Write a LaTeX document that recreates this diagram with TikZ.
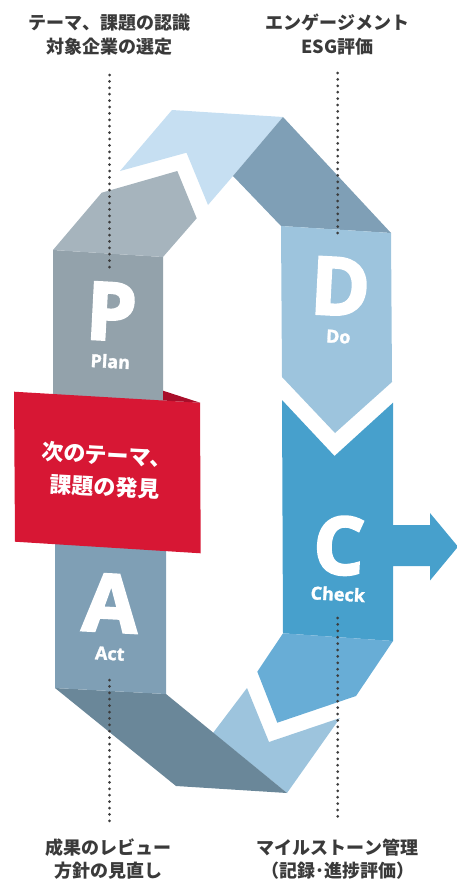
\documentclass[tikz,border=0pt]{standalone}
\usepackage{fontspec}
\newfontfamily\jpfont{Noto Sans CJK JP}
\newfontfamily\latfont{Open Sans}
\newfontfamily\heavyfont[FakeBold=3,BoldFeatures={FakeBold=3}]{Open Sans}
\newfontfamily\wordfont[BoldFeatures={FakeBold=1.5}]{Open Sans}
\definecolor{planGray}{HTML}{93A2AB}
\definecolor{planSlant}{HTML}{A6B4BD}
\definecolor{topArrow}{HTML}{C6DFF2}
\definecolor{topBand}{HTML}{7F9FB6}
\definecolor{doBlue}{HTML}{9DC4DD}
\definecolor{checkBlue}{HTML}{47A0CC}
\definecolor{checkSlant}{HTML}{68ADD6}
\definecolor{lowArrow}{HTML}{9DC4DD}
\definecolor{lowBand}{HTML}{6A8799}
\definecolor{actBlue}{HTML}{7F9FB5}
\definecolor{ribbonRed}{HTML}{D71734}
\definecolor{ribbonFold}{HTML}{A90E2A}
\definecolor{labelGray}{HTML}{3A3A3A}
\definecolor{dotGray}{HTML}{3C3C3C}
\begin{document}
\begin{tikzpicture}[x=1pt,y=-1pt,
  caption/.style={font=\jpfont\bfseries\fontsize{18}{24}\selectfont,text=labelGray,align=center},
  captionlow/.style={font=\jpfont\bfseries\fontsize{18}{23}\selectfont,text=labelGray,align=center},
  bigletter/.style={font=\heavyfont\bfseries\fontsize{80}{80}\selectfont,text=white,anchor=base,rotate=-3,inner sep=0pt},
  phaseword/.style={font=\wordfont\bfseries\fontsize{18}{18}\selectfont,text=white,anchor=base,rotate=-3,inner sep=0pt},
  ribbontext/.style={font=\jpfont\bfseries\fontsize{22}{32}\selectfont,text=white,align=center,rotate=-3},
  dotline/.style={draw=dotGray,line width=3pt,line cap=round,dash pattern=on 0pt off 6.4pt}]
\useasboundingbox (0,0) rectangle (457,883);

% ---- Plan column and its upper bend
\fill[planGray] (53,250) -- (163,257) -- (163,470) -- (53,470) -- cycle;
\fill[planSlant] (53,250) -- (101.7,192.7) -- (177.3,171) -- (196.7,218.3) -- (163,257) -- cycle;

% ---- top arrow turning towards Do
\fill[topArrow] (172,110) -- (283,117) -- (233,176) -- (208,205) -- (186.5,152.7) -- (120,171) -- cycle;
\fill[topBand] (283,117) -- (391,233) -- (281,226) -- (233,176) -- cycle;

% ---- Do column ending in a point
\fill[doBlue] (281,226) -- (391,233) -- (392,382) -- (335,433) -- (282,377) -- cycle;

% ---- Check column with notch and side arrow
\fill[checkBlue] (282,400) -- (334.5,456) -- (393,402.7) -- (393,525) -- (430,525) -- (430,513)
  -- (458,546.7) -- (430,580.5) -- (430,566) -- (393,566) -- (393,641) -- (283,633.3) -- cycle;
\fill[checkSlant] (283,633.3) -- (393,641) -- (356,696) -- (277.3,722.7) -- (257.3,671.7) -- cycle;

% ---- lower arrow and bottom band back to Act
\fill[lowArrow] (213,733) -- (247,688) -- (269,742) -- (340,718) -- (287,793) -- cycle;
\fill[lowBand] (55,688) -- (166,694) -- (287,793) -- (176,786) -- cycle;

% ---- Act column
\fill[actBlue] (55,470) -- (166,470) -- (166,694) -- (55,688) -- cycle;

% ---- red ribbon across the left side
\fill[ribbonRed] (14,391.7) -- (200,402.7) -- (200.7,553.3) -- (15,541.7) -- cycle;
\fill[ribbonFold] (163,390.7) -- (200,402.7) -- (163,400.5) -- cycle;
\node[ribbontext] (ribbon) at (106,471) {次のテーマ、\\課題の発見};

% ---- phase letters
\node[bigletter] (letP) at (110,340) {P};
\node[phaseword] (wordP) at (110,368) {Plan};
\node[bigletter] (letD) at (339,315) {D};
\node[phaseword] (wordD) at (338,343) {Do};
\node[bigletter] (letC) at (337.5,574) {C};
\node[phaseword] (wordC) at (337.5,600.7) {Check};
\node[bigletter] (letA) at (109,631.7) {A};
\node[phaseword] (wordA) at (109.5,660) {Act};

% ---- captions
\node[caption] (capP) at (109.5,35) {テーマ、課題の認識\\対象企業の選定};
\node[caption] (capD) at (337.5,35) {エンゲージメント\\ESG評価};
\node[captionlow] (capA) at (108.5,859) {成果のレビュー\\方針の見直し};
\node[captionlow] (capC) at (337.5,859) {マイルストーン管理\\（記録･進捗評価）};

% ---- dotted leaders
\coordinate (pTop) at (109.5,75);   \coordinate (pEnd) at (109.5,268);
\coordinate (dTop) at (337.7,73);   \coordinate (dEnd) at (337.7,238);
\coordinate (aTop) at (109.5,680);  \coordinate (aEnd) at (109.5,822);
\coordinate (cTop) at (337.7,618);  \coordinate (cEnd) at (337.7,822);
\draw[dotline] (pTop) -- (pEnd);
\draw[dotline] (dTop) -- (dEnd);
\draw[dotline] (aTop) -- (aEnd);
\draw[dotline] (cTop) -- (cEnd);
\end{tikzpicture}
\end{document}
